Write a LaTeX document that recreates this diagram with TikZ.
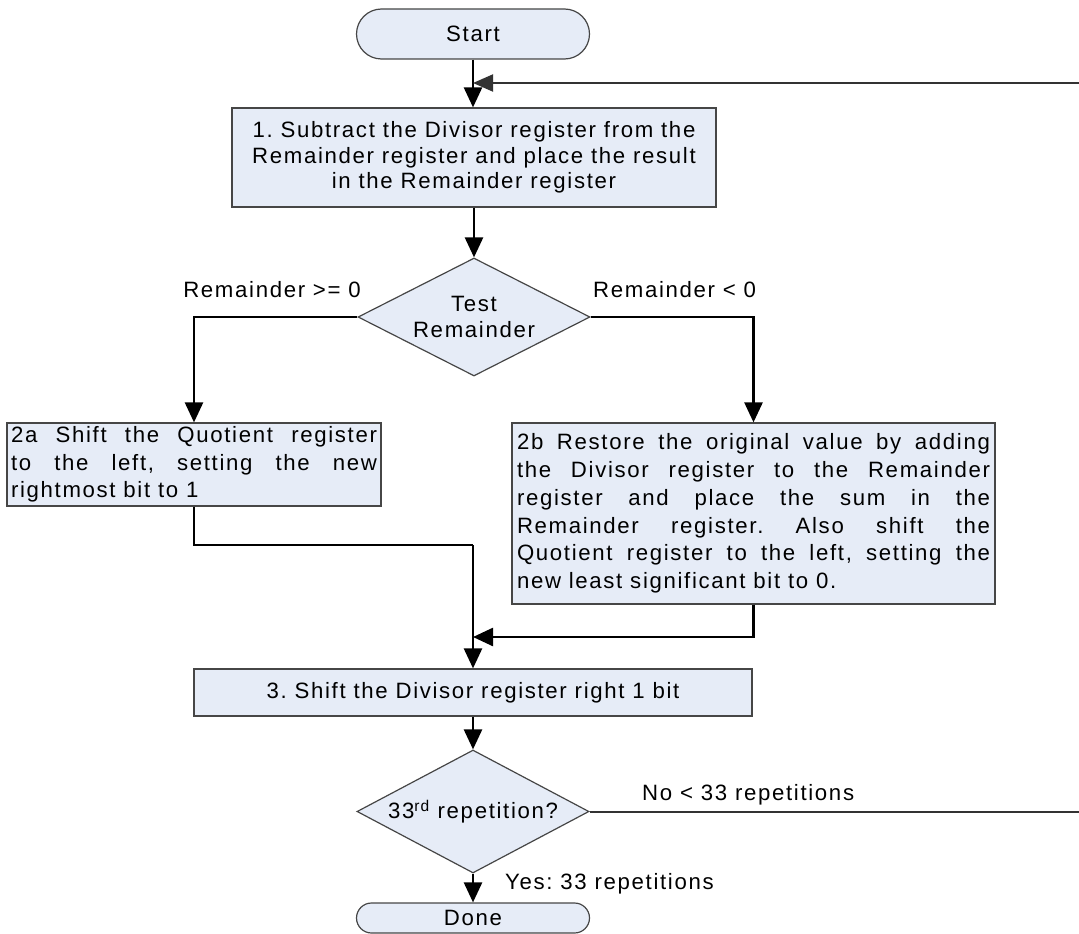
\documentclass[tikz,border=0pt]{standalone}
\usepackage{fontspec}
\setmainfont{Liberation Sans}[LetterSpace=7.5]
\usetikzlibrary{arrows.meta,shapes.geometric,shapes.misc}
\definecolor{boxfill}{RGB}{230,236,247}
\definecolor{bordercol}{RGB}{70,70,70}
\definecolor{loopcol}{RGB}{51,51,51}
\hyphenpenalty=10000
\exhyphenpenalty=10000
\tolerance=10000
\hbadness=10000
\frenchspacing
\begin{document}
\begin{tikzpicture}[x=1pt,y=-1pt,
  every node/.style={font=\fontsize{22.2}{26}\selectfont},
  shape base/.style={draw=bordercol, fill=boxfill, line width=1.2pt, inner sep=0pt},
  proc/.style={shape base, rectangle},
  term/.style={shape base, rounded rectangle, minimum width=233pt},
  dec/.style={shape base, diamond, aspect=2},
  lbl/.style={inner sep=0pt},
  flow/.style={line width=2.5pt, -{Triangle[length=20pt,width=18pt]}},
  plain/.style={line width=2.5pt},
  loop/.style={line width=2pt, draw=loopcol},
  looparrow/.style={line width=2pt, draw=loopcol, -{Triangle[length=20pt,width=17pt]}, fill=loopcol}
]
\useasboundingbox (0,0) rectangle (1079,934);
\clip (0,0) rectangle (1079,934);

% nodes
\node[term, minimum height=50pt] (start) at (473,34) {Start};
\node[proc, minimum width=484pt, minimum height=99pt, align=center,
      font=\fontsize{22.2}{25.5}\selectfont] (b1) at (474,157.5)
  {1. Subtract the Divisor register from the\\Remainder register and place the result\\in the Remainder register};
\node[dec, minimum width=232pt, minimum height=118pt, align=center] (d1) at (474,317) {Test\\Remainder};
\node[proc, minimum width=374pt, minimum height=83pt, text width=366pt, align=justify,
      font=\fontsize{22.2}{27.5}\selectfont] (b2a) at (194,464.5)
  {2a Shift the Quotient register\linebreak to the left, setting the new\linebreak rightmost bit to 1};
\node[proc, minimum width=483pt, minimum height=181pt, text width=473pt, align=justify,
      font=\fontsize{22.2}{27.7}\selectfont] (b2b) at (753.5,513.5)
  {2b Restore the original value by adding\linebreak the Divisor register to the Remainder\linebreak register and place the sum in the\linebreak Remainder register. Also shift the\linebreak Quotient register to the left, setting the\linebreak new least significant bit to 0.};
\node[proc, minimum width=558pt, minimum height=47pt] (b3) at (473,692.5) {3. Shift the Divisor register right 1 bit};
\node[dec, minimum width=232pt, minimum height=123pt] (d2) at (473,811.5) {33\textsuperscript{rd} repetition?};
\node[term, minimum height=30pt] (done) at (473,918) {Done};

% labels
\node[lbl, anchor=east] (lge) at (361,290) {Remainder >= 0};
\node[lbl, anchor=west] (llt) at (593,290) {Remainder < 0};
\node[lbl, anchor=west] (lno) at (642,795) {No < 33 repetitions};
\node[lbl, anchor=west] (lyes) at (505,884) {Yes: 33 repetitions};

% helper coordinates
\coordinate (fb) at (473,83);
\coordinate (j1) at (473,545);
\coordinate (j2) at (473,637);
\coordinate (r1) at (1090,811.5);
\coordinate (r2) at (1090,83);

% connectors
\draw[flow] (start.south) -- (b1.north -| start.south);
\draw[flow] (b1.south -| d1.north) -- (d1.north);
\draw[flow] (d1.west) -| (b2a.north);
\draw[flow] (d1.east) -| (b2b.north);
\draw[plain] (b2a.south) |- (j1);
\draw[flow] (j1) -- (b3.north);
\draw[flow] (b2b.south) |- (j2);
\draw[flow] (b3.south) -- (d2.north);
\draw[flow] (d2.south) -- (done.north);
\draw[loop] (d2.east) -- (r1) -- (r2);
\draw[looparrow] (r2) -- (fb);
\end{tikzpicture}
\end{document}
